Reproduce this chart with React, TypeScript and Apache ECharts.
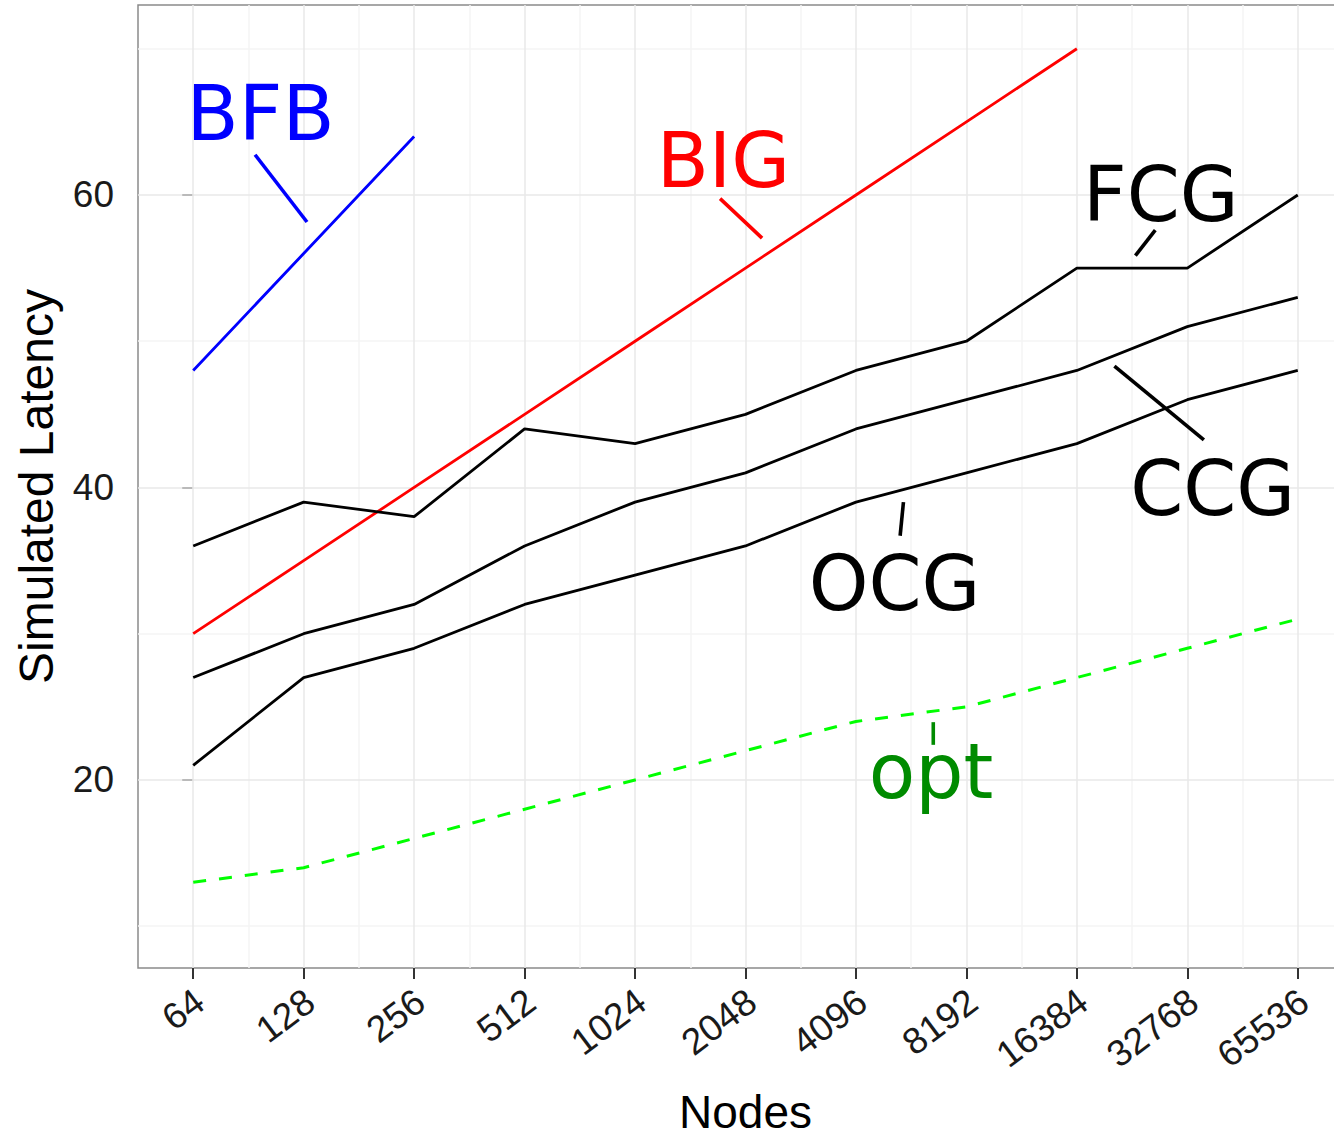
import React, { useEffect, useRef } from "react";
import * as echarts from "echarts";

// Node counts on the x axis (log2 spaced, drawn as evenly spaced positions)
const NODES = ["64", "128", "256", "512", "1024", "2048", "4096", "8192", "16384", "32768", "65536"];

// Simulated latency per algorithm
const BFB = [48, 56, 64];
const BIG = [30, 35, 40, 45, 50, 55, 60, 65, 70];
const FCG = [36, 39, 38, 44, 43, 45, 48, 50, 55, 55, 60];
const CCG = [27, 30, 32, 36, 39, 41, 44, 46, 48, 51, 53];
const OCG = [21, 27, 29, 32, 34, 36, 39, 41, 43, 46, 48];
const OPT = [13, 14, 16, 18, 20, 22, 24, 25, 27, 29, 31];

// Y axis breaks
const Y_MAJOR = [20, 40, 60];
const Y_MINOR = [10, 30, 50, 70];

// Direct labels: text, anchor (x index, latency) and leader segment ends
const LABEL_TEXT = ["BFB", "BIG", "FCG", "CCG", "OCG", "opt"];
const LABEL_X = [0.61, 4.8, 8.76, 9.23, 6.35, 6.68];
const LABEL_Y = [65.6, 62.35, 60.0, 39.95, 33.45, 20.6];
const LEADER_X0 = [0.56, 4.77, 8.71, 8.34, 6.43, 6.7];
const LEADER_Y0 = [62.75, 59.75, 57.6, 48.3, 39.0, 23.95];
const LEADER_X1 = [1.03, 5.15, 8.53, 9.15, 6.4, 6.7];
const LEADER_Y1 = [58.15, 57.05, 55.85, 43.25, 36.7, 22.4];

const LINE_COLORS: Record<string, string> = {
  BFB: "#0000FF",
  BIG: "#FF0000",
  FCG: "#000000",
  CCG: "#000000",
  OCG: "#000000",
  opt: "#00FF00",
};
const TEXT_COLORS: Record<string, string> = {
  BFB: "#0000FF",
  BIG: "#FF0000",
  FCG: "#000000",
  CCG: "#000000",
  OCG: "#000000",
  opt: "#008B00",
};

const toPairs = (vals: number[]) => vals.map((v, i) => [i, v]);

export default function App() {
  const ref = useRef<HTMLDivElement>(null);

  useEffect(() => {
    if (!ref.current) return;
    const chart = echarts.init(ref.current, undefined, { renderer: "svg" });

    const axisFont = "Liberation Sans, Arial, Helvetica, sans-serif";
    const majorGrid = { color: "#E8E8E8", width: 1.5, type: "solid" as const };
    const minorGrid = { color: "#F4F4F4", width: 1.5, type: "solid" as const };

    const xMajor = NODES.map((_, i) => i);
    const xMinor = NODES.slice(1).map((_, i) => i + 0.5);

    const gridLines = [
      ...xMinor.map((v) => ({ xAxis: v, lineStyle: minorGrid })),
      ...Y_MINOR.map((v) => ({ yAxis: v, lineStyle: minorGrid })),
      ...xMajor.map((v) => ({ xAxis: v, lineStyle: majorGrid })),
      ...Y_MAJOR.map((v) => ({ yAxis: v, lineStyle: majorGrid })),
    ];

    const dataLine = (name: string, vals: number[], dashed = false) => ({
      name,
      type: "line",
      data: toPairs(vals),
      showSymbol: false,
      symbol: "none",
      z: 3,
      lineStyle: {
        color: LINE_COLORS[name],
        width: dashed ? 3 : 2.8,
        type: dashed ? [13, 13] : "solid",
      },
    });

    const leaders = LABEL_TEXT.map((t, i) => ({
      name: t + "-leader",
      type: "line",
      data: [
        [LEADER_X0[i], LEADER_Y0[i]],
        [LEADER_X1[i], LEADER_Y1[i]],
      ],
      showSymbol: false,
      symbol: "none",
      z: 4,
      lineStyle: { color: TEXT_COLORS[t], width: 3.6 },
    }));

    chart.setOption({
      animation: false,
      backgroundColor: "#FFFFFF",
      grid: {
        left: 138,
        top: 5,
        width: 1215,
        height: 963,
        outerBoundsMode: "none",
        containLabel: false,
        show: true,
        borderColor: "#8A8A8A",
        borderWidth: 1.5,
        backgroundColor: "#FFFFFF",
      },
      xAxis: {
        type: "value",
        min: -0.5,
        max: 10.5,
        splitLine: { show: false },
        axisLine: { show: false },
        axisTick: {
          show: true,
          customValues: xMajor,
          length: 11,
          lineStyle: { color: "#333333", width: 2 },
        },
        axisLabel: {
          customValues: xMajor,
          formatter: (v: number) => NODES[Math.round(v)] ?? "",
          rotate: 37,
          margin: 34,
          padding: [0, -8, 0, 0],
          fontSize: 37,
          color: "#1A1A1A",
          fontFamily: axisFont,
        },
        name: "Nodes",
        nameLocation: "middle",
        nameGap: 121,
        nameTextStyle: { fontSize: 46, color: "#000000", fontFamily: axisFont, verticalAlign: "top" },
      },
      yAxis: {
        type: "value",
        min: 7.14,
        max: 72.99,
        splitLine: { show: false },
        axisLine: { show: false },
        axisTick: {
          show: true,
          customValues: Y_MAJOR,
          length: 11,
          lineStyle: { color: "#333333", width: 2 },
        },
        axisLabel: {
          customValues: Y_MAJOR,
          margin: 24,
          fontSize: 37,
          color: "#1A1A1A",
          fontFamily: axisFont,
        },
        name: "Simulated Latency",
        nameLocation: "middle",
        nameGap: 78,
        nameTextStyle: { fontSize: 48, color: "#000000", fontFamily: axisFont },
      },
      series: [
        {
          name: "grid",
          type: "line",
          data: [],
          z: 1,
          silent: true,
          markLine: {
            z: 1,
            silent: true,
            symbol: ["none", "none"],
            label: { show: false },
            emphasis: { disabled: true },
            data: gridLines,
          },
        },
        dataLine("BFB", BFB),
        dataLine("BIG", BIG),
        dataLine("FCG", FCG),
        dataLine("CCG", CCG),
        dataLine("OCG", OCG),
        dataLine("opt", OPT, true),
        ...leaders,
        {
          name: "labels",
          type: "scatter",
          symbolSize: 0,
          z: 5,
          silent: true,
          itemStyle: { opacity: 1 },
          data: LABEL_TEXT.map((t, i) => ({
            name: t,
            value: [LABEL_X[i], LABEL_Y[i]],
            label: { color: TEXT_COLORS[t] },
          })),
          label: {
            show: true,
            position: "inside",
            formatter: (p: any) => p.name,
            fontSize: 76,
            fontFamily: "DejaVu Sans",
          },
        },
      ],
    });

    return () => chart.dispose();
  }, []);

  return (
    <div
      ref={ref}
      style={{ position: "fixed", left: 0, top: 0, width: 1400, height: 1137, background: "#FFFFFF" }}
    />
  );
}
